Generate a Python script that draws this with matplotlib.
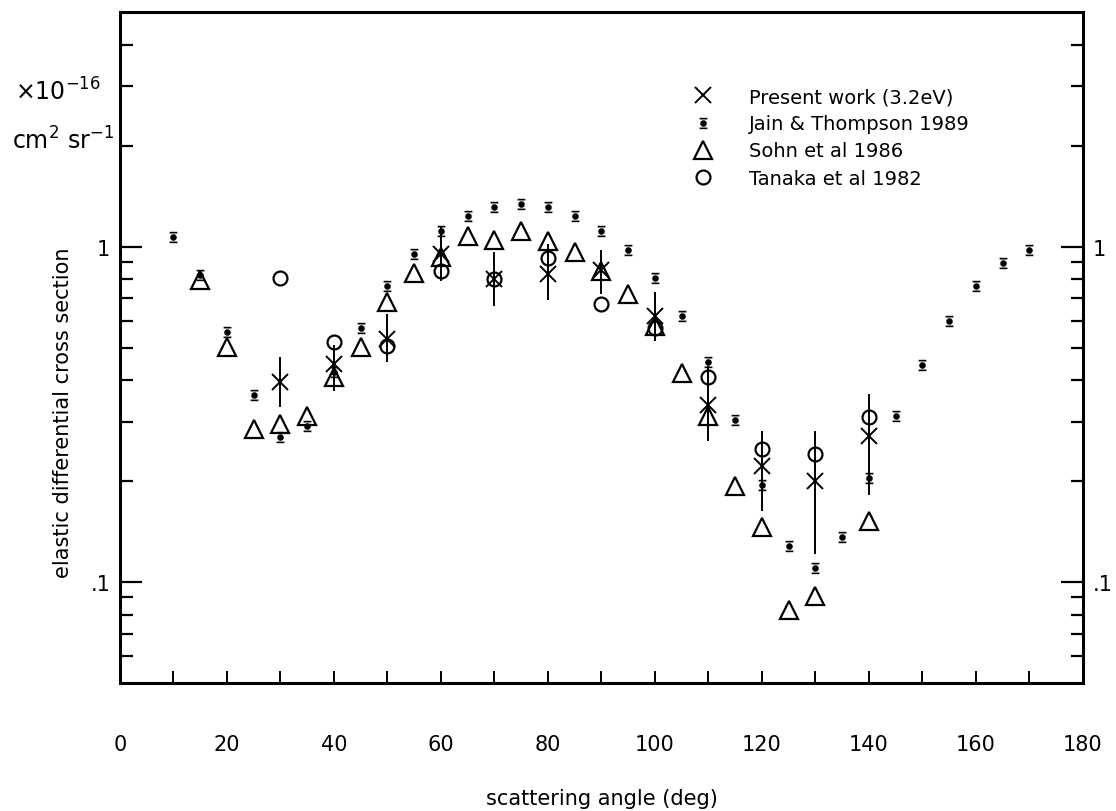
import numpy as np
import matplotlib
matplotlib.use("Agg")
import matplotlib.pyplot as plt
from matplotlib.path import Path
from matplotlib.ticker import FixedLocator, FixedFormatter, NullFormatter

plt.rcParams['font.family'] = ['DejaVu Sans']

# Jain & Thompson 1989
jt_angle = [10, 15, 20, 25, 30, 35, 40, 45, 50, 55, 60, 65, 70, 75, 80, 85, 90,
            95, 100, 105, 110, 115, 120, 125, 130, 135, 140, 145, 150, 155, 160, 165, 170]
jt_dcs = [1.07, 0.82, 0.558, 0.362, 0.271, 0.292, 0.424, 0.573, 0.765, 0.953, 1.116,
          1.237, 1.31, 1.335, 1.31, 1.237, 1.116, 0.973, 0.808, 0.622, 0.454, 0.304,
          0.195, 0.128, 0.110, 0.136, 0.204, 0.313, 0.444, 0.601, 0.76, 0.89, 0.973]

# Sohn et al 1986
sohn_angle = [15, 20, 25, 30, 35, 40, 45, 50, 55, 60, 65, 70, 75, 80, 85, 90, 95,
              100, 105, 110, 115, 120, 125, 130, 140]
sohn_dcs = [0.792, 0.503, 0.286, 0.296, 0.313, 0.409, 0.503, 0.685, 0.831, 0.933,
            1.075, 1.049, 1.116, 1.042, 0.963, 0.845, 0.724, 0.578, 0.42, 0.313,
            0.193, 0.146, 0.0825, 0.091, 0.152]

# Present work (3.2 eV), with error bar ends
pw_angle = [30, 40, 50, 60, 70, 80, 90, 100, 110, 120, 130, 140]
pw_dcs = [0.395, 0.447, 0.531, 0.953, 0.80, 0.83, 0.85, 0.622, 0.337, 0.221, 0.20, 0.273]
pw_low = [0.333, 0.37, 0.454, 0.79, 0.667, 0.695, 0.72, 0.524, 0.264, 0.163, 0.121, 0.182]
pw_high = [0.47, 0.51, 0.631, 1.147, 0.966, 1.02, 0.973, 0.734, 0.44, 0.282, 0.282, 0.364]

# Tanaka et al 1982
tan_angle = [30, 40, 50, 60, 70, 80, 90, 100, 110, 120, 130, 140]
tan_dcs = [0.803, 0.52, 0.506, 0.848, 0.80, 0.927, 0.676, 0.57, 0.409, 0.25, 0.24, 0.311]

x_ticks = [0, 20, 40, 60, 80, 100, 120, 140, 160, 180]
x_minor = [10, 30, 50, 70, 90, 110, 130, 150, 170]
y_major = [0.1, 1]
y_major_labels = ['.1', '1']
y_minor = [0.06, 0.07, 0.08, 0.09, 0.2, 0.3, 0.4, 0.5, 0.6, 0.7, 0.8, 0.9, 2, 3, 4]


# small dot with a bar above and below, like the J&T symbol
circ = Path.unit_circle()
dot_verts = list(circ.vertices * 0.5) + [(-0.8, 1.0), (0.8, 1.0), (-0.8, -1.0), (0.8, -1.0)]
dot_codes = list(circ.codes) + [Path.MOVETO, Path.LINETO, Path.MOVETO, Path.LINETO]
jt_marker = Path(dot_verts, dot_codes)

fig = plt.figure(figsize=(11.16, 8.12), dpi=100)
ax = fig.add_axes([0.1075, 0.1576, 0.8629, 0.8264])

pw_dcs = np.array(pw_dcs)
yerr = [pw_dcs - np.array(pw_low), np.array(pw_high) - pw_dcs]
ax.errorbar(pw_angle, pw_dcs, yerr=yerr, fmt='none', ecolor='k',
            elinewidth=1.4, capsize=0, zorder=3)
ax.plot(pw_angle, pw_dcs, ls='none', marker='x', ms=11, mew=1.4, color='k',
        label='Present work (3.2eV)', zorder=3)
ax.plot(jt_angle, jt_dcs, ls='none', marker=jt_marker, ms=7, color='k', mew=1.2,
        label='Jain & Thompson 1989', zorder=4)
ax.plot(sohn_angle, sohn_dcs, ls='none', marker='^', ms=13, mfc='none', mec='k',
        mew=1.6, label='Sohn et al 1986', zorder=3)
ax.plot(tan_angle, tan_dcs, ls='none', marker='o', ms=10, mfc='none', mec='k',
        mew=1.6, label='Tanaka et al 1982', zorder=3)

ax.set_yscale('log')
ax.set_xlim(0, 180)
ax.set_ylim(0.05, 5)

ax.xaxis.set_major_locator(FixedLocator(x_ticks))
ax.xaxis.set_minor_locator(FixedLocator(x_minor))
ax.tick_params(axis='x', which='both', direction='in', length=9, width=1.4,
               top=False, pad=37, labelsize=15)

ax.yaxis.set_major_locator(FixedLocator(y_major))
ax.yaxis.set_major_formatter(FixedFormatter(y_major_labels))
ax.yaxis.set_minor_locator(FixedLocator(y_minor))
ax.yaxis.set_minor_formatter(NullFormatter())
ax.tick_params(axis='y', which='major', direction='in', length=16, width=1.6,
               left=True, right=True, labelleft=True, labelright=True, pad=7, labelsize=15)
ax.tick_params(axis='y', which='minor', direction='in', length=9, width=1.6,
               left=True, right=True)

for s in ax.spines.values():
    s.set_linewidth(2.2)

ax.set_xlabel('scattering angle (deg)', fontsize=15, labelpad=24)
ax.set_ylabel('elastic differential cross section', fontsize=15)
ax.yaxis.set_label_coords(-0.049, 0.405)

fig.text(0.013, 0.887, r'$\mathregular{\times10^{-16}}$', fontsize=17, va='center')
fig.text(0.011, 0.826, r'$\mathregular{cm^2\ sr^{-1}}$', fontsize=17, va='center')

ax.legend(loc='upper left', bbox_to_anchor=(0.595, 0.888), frameon=False,
          fontsize=14, labelspacing=0.42, handletextpad=1.9, handlelength=1.0,
          borderpad=0, borderaxespad=0)

fig.savefig('out.png', dpi=100)
